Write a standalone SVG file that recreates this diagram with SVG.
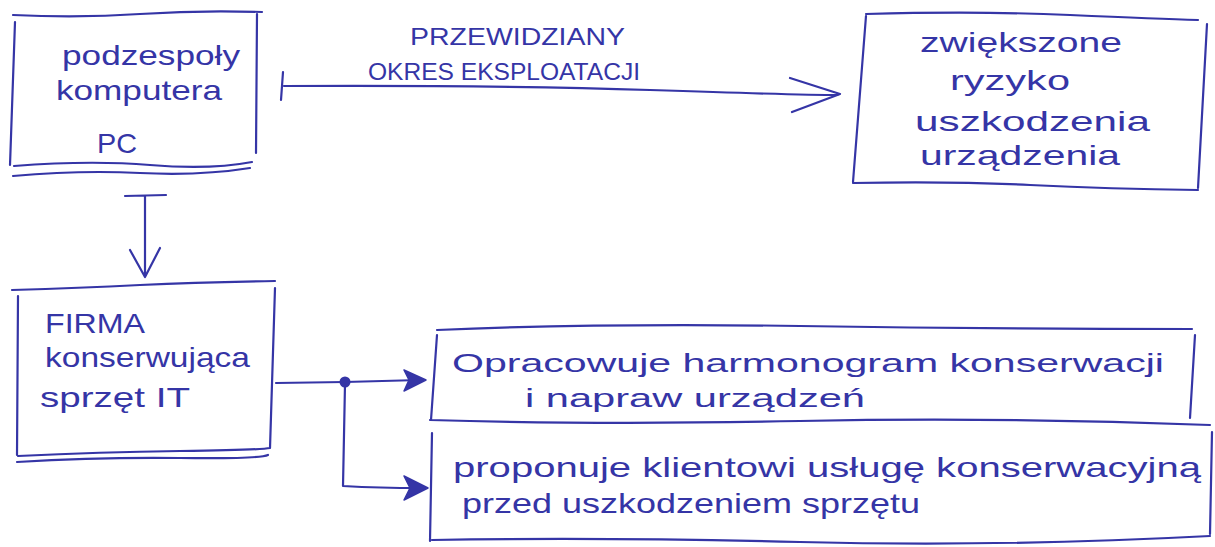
<svg xmlns="http://www.w3.org/2000/svg" width="1215" height="547" viewBox="0 0 1215 547">
<style>
.ink{fill:none;stroke:#3535a6;stroke-width:2.2;stroke-linecap:round;stroke-linejoin:round}
.t{font-family:"Liberation Sans","DejaVu Sans",sans-serif;fill:#3535a6;font-size:28px}
.m{font-size:26px}
.cap{font-family:"Liberation Sans","DejaVu Sans",sans-serif;fill:#3535a6;font-size:24px}
.head{fill:#3535a6;stroke:#3535a6;stroke-width:1.5;stroke-linejoin:round}
</style>
<rect width="1215" height="547" fill="#fff"/>
<g id="n1">
<path class="ink" d="M13 15 Q80 18 140 14 T262 12 M15 22 L10 165 M257 14 L256 153 M14 166 Q90 160 150 165 T252 162 M13 176 Q80 170 140 173 T250 168"/>
<text class="t" x="62" y="65" textLength="178" lengthAdjust="spacingAndGlyphs">podzespoły</text>
<text class="t" x="56" y="100" textLength="166" lengthAdjust="spacingAndGlyphs">komputera</text>
<text class="t" x="97" y="153" textLength="40" lengthAdjust="spacingAndGlyphs">PC</text>
</g>
<g id="n2">
<path class="ink" d="M866 14 Q980 11 1070 15 T1198 20 M866 16 L853 182 M1207 24 L1198 188 M853 183 Q950 181 1030 185 T1198 190"/>
<text class="t" x="920" y="52" textLength="202" lengthAdjust="spacingAndGlyphs">zwiększone</text>
<text class="t" x="950" y="90" textLength="120" lengthAdjust="spacingAndGlyphs">ryzyko</text>
<text class="t" x="915" y="131" textLength="235" lengthAdjust="spacingAndGlyphs">uszkodzenia</text>
<text class="t" x="920" y="165" textLength="200" lengthAdjust="spacingAndGlyphs">urządzenia</text>
</g>
<g id="n3">
<path class="ink" d="M12 290 Q80 288 140 285 T275 281 M18 296 L17 455 M275 288 L270 448 M18 456 Q100 452 180 451 T270 448 M17 462 Q100 457 180 458 T268 455"/>
<text class="t" x="45" y="333" textLength="100" lengthAdjust="spacingAndGlyphs">FIRMA</text>
<text class="t" x="45" y="367" textLength="205" lengthAdjust="spacingAndGlyphs">konserwująca</text>
<text class="t" x="40" y="407" textLength="150" lengthAdjust="spacingAndGlyphs">sprzęt IT</text>
</g>
<g id="n4">
<path class="ink" d="M437 330 Q600 323 800 326 T1192 329 M437 335 L431 420 M1195 335 L1190 418 M430 420 Q600 425 800 421 T1210 425"/>
<text class="t m" x="452" y="372" textLength="712" lengthAdjust="spacingAndGlyphs">Opracowuje harmonogram konserwacji</text>
<text class="t m" x="525" y="407" textLength="340" lengthAdjust="spacingAndGlyphs">i napraw urządzeń</text>
</g>
<g id="n5">
<path class="ink" d="M432 433 L430 541 M1212 432 L1210 534 M432 540 Q600 537 800 542 T1210 536"/>
<text class="t" x="453" y="477" textLength="748" lengthAdjust="spacingAndGlyphs">proponuje klientowi usługę konserwacyjną</text>
<text class="t" x="462" y="513" textLength="458" lengthAdjust="spacingAndGlyphs">przed uszkodzeniem sprzętu</text>
</g>
<g id="connectors">
<path class="ink" d="M283 72 L281 100 M284 86 Q500 85 650 90 T838 95 M790 78 L840 94 L792 112"/>
<text class="cap" x="410" y="45" textLength="215" lengthAdjust="spacingAndGlyphs">PRZEWIDZIANY</text>
<text class="cap" x="368" y="80" textLength="272" lengthAdjust="spacingAndGlyphs">OKRES EKSPLOATACJI</text>
<path class="ink" d="M125 196 L166 195 M145 196 L145 276 M130 250 L145 277 L160 248"/>
<path class="ink" d="M276 383 L345 382 L420 380"/>
<path class="head" d="M404 370 L426 380 L404 391 L409 380 Z"/>
<circle cx="345" cy="382" r="5.5" fill="#3535a6"/>
<path class="ink" d="M345 384 L343 486 Q380 488 420 488"/>
<path class="head" d="M404 476 L428 488 L404 500 L410 488 Z"/>
</g>
</svg>
